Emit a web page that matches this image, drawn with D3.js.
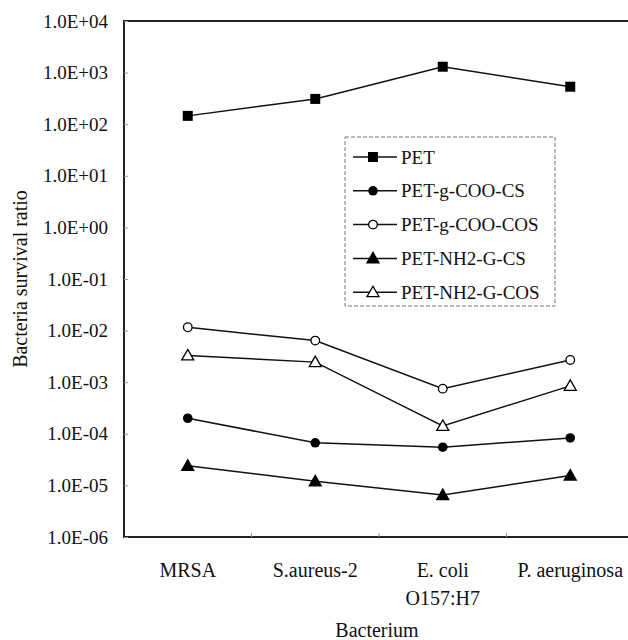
<!DOCTYPE html>
<html>
<head>
<meta charset="utf-8">
<script src="https://cdn.jsdelivr.net/npm/d3@7"></script>
<style>
  html, body { margin: 0; padding: 0; background: #fff; }
  svg text { font-family: "Liberation Serif", "Times New Roman", Times, "DejaVu Serif", serif !important; }
</style>
</head>
<body>
<div id="chart"></div>
<script>
// ---- data ----
const categories = ["MRSA", "S.aureus-2", "E. coli|O157:H7", "P. aeruginosa"];
const seriesNames = ["PET", "PET-g-COO-CS", "PET-g-COO-COS", "PET-NH2-G-CS", "PET-NH2-G-COS"];
const PET          = [145, 309, 1300, 533];
const PET_g_COO_CS  = [2.0e-4, 6.7e-5, 5.5e-5, 8.3e-5];
const PET_g_COO_COS = [1.16e-2, 6.4e-3, 7.5e-4, 2.7e-3];
const PET_NH2_G_CS  = [2.4e-5, 1.2e-5, 6.5e-6, 1.55e-5];
const PET_NH2_G_COS = [3.3e-3, 2.45e-3, 1.42e-4, 8.5e-4];
const yTickValues = [1e-6, 1e-5, 1e-4, 1e-3, 1e-2, 1e-1, 1e0, 1e1, 1e2, 1e3, 1e4];
const yTickLabels = ["1.0E-06", "1.0E-05", "1.0E-04", "1.0E-03", "1.0E-02", "1.0E-01",
                     "1.0E+00", "1.0E+01", "1.0E+02", "1.0E+03", "1.0E+04"];
const yTitle = "Bacteria survival ratio";
const xTitle = "Bacterium";

const seriesValues = [PET, PET_g_COO_CS, PET_g_COO_COS, PET_NH2_G_CS, PET_NH2_G_COS];
const markerTypes = ["squareFill", "circleFill", "circleOpen", "triFill", "triOpen"];

// ---- layout ----
const W = 628, H = 640;
const mLeft = 124, mRight = 634, mTop = 21, mBottom = 537;
const FONT = "'Liberation Serif', 'Times New Roman', Times, serif";

const svg = d3.select("#chart").append("svg").attr("width", W).attr("height", H)
  .attr("font-family", FONT);

const x = d3.scalePoint().domain(categories).range([mLeft, mRight]).padding(0.5);
const y = d3.scaleLog().domain([1e-6, 1e4]).range([mBottom, mTop]);

// frame
svg.append("rect")
  .attr("x", mLeft).attr("y", mTop)
  .attr("width", mRight - mLeft).attr("height", mBottom - mTop)
  .attr("fill", "none").attr("stroke", "#222").attr("stroke-width", 2);

// y axis
const yAxis = d3.axisLeft(y)
  .tickValues(yTickValues)
  .tickFormat((d, i) => yTickLabels[i])
  .tickSizeInner(-4).tickSizeOuter(0).tickPadding(16);
const gy = svg.append("g").attr("transform", `translate(${mLeft},0)`).call(yAxis)
  .attr("font-family", FONT).attr("font-size", 19);
gy.select(".domain").remove();
gy.selectAll(".tick line").attr("stroke", "#999").attr("stroke-width", 1);
gy.selectAll(".tick text").attr("font-family", FONT).attr("font-size", 19).attr("fill", "#111");

// x ticks at category boundaries (inward)
const step = x.step();
const boundaries = categories.slice(1).map(c => x(c) - step / 2);
svg.append("g").selectAll("line").data(boundaries).join("line")
  .attr("x1", d => d).attr("x2", d => d)
  .attr("y1", mBottom).attr("y2", mBottom - 4)
  .attr("stroke", "#999").attr("stroke-width", 1);

// x category labels
const xl = svg.append("g");
categories.forEach(c => {
  const lines = c.split("|");
  const t = xl.append("text")
    .attr("x", x(c)).attr("y", 577)
    .attr("text-anchor", "middle").attr("font-family", FONT)
    .attr("font-size", 20).attr("fill", "#111");
  lines.forEach((ln, i) => {
    t.append("tspan").attr("x", x(c)).attr("dy", i === 0 ? 0 : 28).text(ln);
  });
});

// axis titles
svg.append("text")
  .attr("x", (mLeft + mRight) / 2 - 2).attr("y", 637)
  .attr("text-anchor", "middle").attr("font-family", FONT).attr("font-size", 20).attr("fill", "#111")
  .text(xTitle);
svg.append("text")
  .attr("transform", `translate(27,279) rotate(-90)`)
  .attr("text-anchor", "middle").attr("font-family", FONT).attr("font-size", 20).attr("fill", "#111")
  .text(yTitle);

// marker drawing
function drawMarker(g, type, cx, cy) {
  if (type === "squareFill") {
    g.append("rect").attr("x", cx - 5).attr("y", cy - 5).attr("width", 10).attr("height", 10)
      .attr("fill", "#000");
  } else if (type === "circleFill") {
    g.append("circle").attr("cx", cx).attr("cy", cy).attr("r", 4.8).attr("fill", "#000");
  } else if (type === "circleOpen") {
    g.append("circle").attr("cx", cx).attr("cy", cy).attr("r", 4.3)
      .attr("fill", "#fff").attr("stroke", "#000").attr("stroke-width", 1.3);
  } else if (type === "triFill" || type === "triOpen") {
    const s = 6;
    const pts = [[cx, cy - s], [cx + s, cy + s * 0.75], [cx - s, cy + s * 0.75]];
    g.append("polygon").attr("points", pts.map(p => p.join(",")).join(" "))
      .attr("fill", type === "triFill" ? "#000" : "#fff")
      .attr("stroke", "#000").attr("stroke-width", 1.3);
  }
}

// series
const line = d3.line().x((d, i) => x(categories[i])).y(d => y(d));
seriesValues.forEach((vals, si) => {
  const g = svg.append("g");
  g.append("path").datum(vals).attr("d", line)
    .attr("fill", "none").attr("stroke", "#111").attr("stroke-width", 1.5);
  vals.forEach((v, i) => drawMarker(g, markerTypes[si], x(categories[i]), y(v)));
});

// legend
const lg = svg.append("g");
lg.append("rect").attr("x", 345).attr("y", 137).attr("width", 210).attr("height", 169)
  .attr("fill", "#fff").attr("stroke", "#777").attr("stroke-width", 1)
  .attr("stroke-dasharray", "4,2");
seriesNames.forEach((name, i) => {
  const ly = 157 + i * 33.8;
  lg.append("line").attr("x1", 353).attr("x2", 397).attr("y1", ly).attr("y2", ly)
    .attr("stroke", "#111").attr("stroke-width", 1.5);
  drawMarker(lg, markerTypes[i], 373, ly);
  lg.append("text").attr("x", 401).attr("y", ly).attr("dy", "0.35em")
    .attr("font-family", FONT).attr("font-size", 19).attr("fill", "#111").text(name);
});
</script>
</body>
</html>
